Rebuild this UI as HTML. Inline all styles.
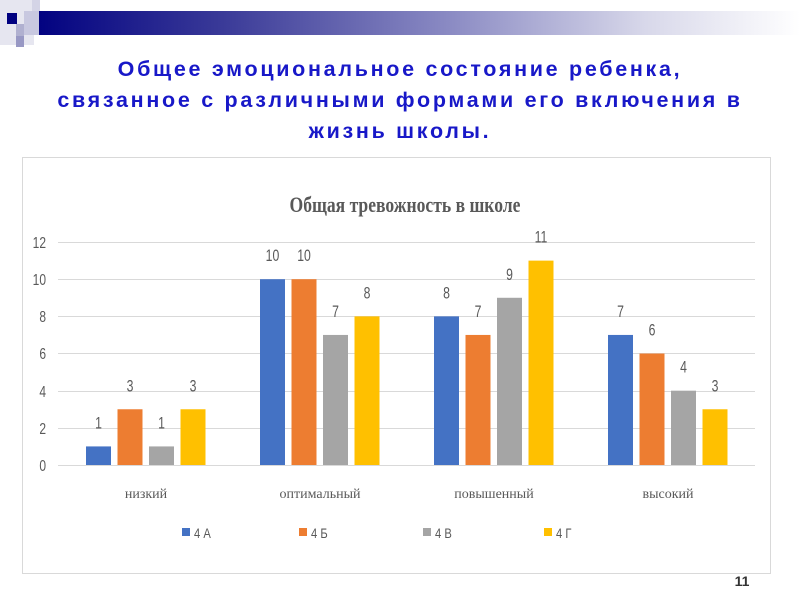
<!DOCTYPE html>
<html><head><meta charset="utf-8"><style>
body{margin:0;width:800px;height:600px;background:#fff;overflow:hidden;position:relative;font-family:"Liberation Sans",sans-serif}
.bar{position:absolute;left:30px;top:11px;width:770px;height:24px;background:linear-gradient(to right,#000080 0%,#3a3a98 25%,#8c8cc4 55%,#d8d8ea 80%,#fff 100%)}
.sq{position:absolute}
.h{position:absolute;left:0;width:800px;text-align:center;color:#1818c8;font-weight:bold;font-size:21.5px;letter-spacing:2.7px;line-height:31px;top:54px}
</style></head><body>
<div class="bar"></div>
<div class="sq" style="left:0;top:0;width:34px;height:45px;background:#e6e6f0"></div>
<div class="sq" style="left:7px;top:13px;width:10px;height:11px;background:#000080"></div>
<div class="sq" style="left:24px;top:11px;width:15px;height:24px;background:#c8c8e0"></div>
<div class="sq" style="left:32px;top:0;width:8px;height:11px;background:#d4d4e6"></div>
<div class="sq" style="left:16px;top:24px;width:8px;height:12px;background:#b0b0d0"></div>
<div class="sq" style="left:16px;top:36px;width:8px;height:11px;background:#9898c4"></div>
<div class="h">Общее эмоциональное состояние ребенка,<br>связанное с различными формами его включения в<br>жизнь школы.</div>
<svg style="position:absolute;left:0;top:0" width="800" height="600">
<rect x="22.5" y="157.5" width="748" height="416" fill="#fff" stroke="#d9d9d9"/>
<text x="405" y="212" text-anchor="middle" font-family="Liberation Serif,serif" font-weight="bold" font-size="22" fill="#595959" transform="translate(405 0) scale(0.8 1) translate(-405 0)">Общая тревожность в школе</text>
<g stroke="#d9d9d9" stroke-width="1">
<line x1="58" x2="755" y1="242.5" y2="242.5"/><line x1="58" x2="755" y1="279.5" y2="279.5"/><line x1="58" x2="755" y1="316.5" y2="316.5"/><line x1="58" x2="755" y1="353.5" y2="353.5"/><line x1="58" x2="755" y1="391.5" y2="391.5"/><line x1="58" x2="755" y1="428.5" y2="428.5"/><line x1="58" x2="755" y1="465.5" y2="465.5"/>
</g>
<g font-family="Liberation Sans,sans-serif" font-size="16" fill="#595959" text-anchor="end" transform="translate(46 0) scale(0.75 1) translate(-46 0)">
<text x="46" y="248">12</text><text x="46" y="285">10</text><text x="46" y="322">8</text><text x="46" y="359">6</text><text x="46" y="397">4</text><text x="46" y="434">2</text><text x="46" y="471">0</text>
</g>
<g id="bars"></g>
<g font-family="Liberation Serif,serif" font-size="14" fill="#595959" text-anchor="middle">
<text x="146" y="498">низкий</text><text x="320" y="498">оптимальный</text><text x="494" y="498">повышенный</text><text x="668" y="498">высокий</text>
</g>
<g font-family="Liberation Sans,sans-serif" font-size="14" fill="#595959">
<rect x="182" y="528" width="8" height="8" fill="#4472c4"/><text x="194" y="538" transform="translate(194 0) scale(0.8 1) translate(-194 0)">4 А</text>
<rect x="299" y="528" width="8" height="8" fill="#ed7d31"/><text x="311" y="538" transform="translate(311 0) scale(0.8 1) translate(-311 0)">4 Б</text>
<rect x="423" y="528" width="8" height="8" fill="#a5a5a5"/><text x="435" y="538" transform="translate(435 0) scale(0.8 1) translate(-435 0)">4 В</text>
<rect x="544" y="528" width="8" height="8" fill="#ffc000"/><text x="556" y="538" transform="translate(556 0) scale(0.8 1) translate(-556 0)">4 Г</text>
</g>
<text x="742" y="586" font-size="14" font-weight="bold" fill="#333" text-anchor="middle">11</text>
</svg>
<script>
var d=[[1,3,1,3],[10,10,7,8],[8,7,9,11],[7,6,4,3]],c=["#4472c4","#ed7d31","#a5a5a5","#ffc000"],s=[86,260,434,608],h="";
for(var g=0;g<4;g++)for(var i=0;i<4;i++){var v=d[g][i],x=s[g]+i*31.5,y=465-v*18.58,cx=x+12.5;
h+='<rect x="'+x+'" y="'+y+'" width="25" height="'+(465-y)+'" fill="'+c[i]+'"/>';
h+='<text x="'+cx+'" y="'+(y-18)+'" text-anchor="middle" font-family="Liberation Sans,sans-serif" font-size="17" fill="#595959" transform="translate('+cx+' 0) scale(0.72 1) translate('+(-cx)+' 0)">'+v+'</text>';}
document.getElementById("bars").innerHTML=h;
</script>
</body></html>
